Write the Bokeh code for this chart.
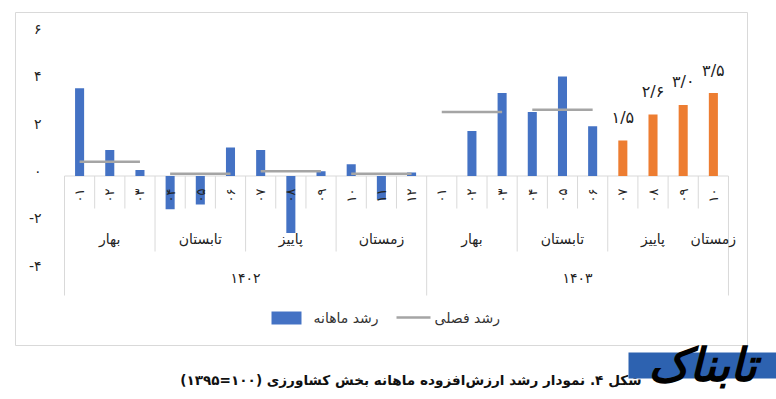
import math
from bokeh.plotting import figure
from bokeh.models import Range1d
from bokeh.core.properties import value
from bokeh.embed import file_html
from bokeh.resources import INLINE

# ---------------- data ----------------
years = ["۱۴۰۲", "۱۴۰۳"]
months_per_year = [12, 10]
seasons = ["بهار", "تابستان", "پاییز", "زمستان"]
month_labels = ["۰۱", "۰۲", "۰۳", "۰۴", "۰۵", "۰۶", "۰۷", "۰۸", "۰۹", "۱۰", "۱۱", "۱۲"]

monthly_1402 = [3.7, 1.1, 0.25, -1.4, -1.2, 1.2, 1.1, -2.4, 0.2, 0.5, -1.0, 0.15]
monthly_1403 = [0.0, 1.9, 3.5, 2.7, 4.2, 2.1, 1.5, 2.6, 3.0, 3.5]
estimated_1403 = [False, False, False, False, False, False, True, True, True, True]
estimate_labels = ["۱/۵", "۲/۶", "۳/۰", "۳/۵"]

seasonal_1402 = [0.6, 0.1, 0.2, 0.1]
seasonal_1403 = [2.7, 2.8]

y_ticks = [-4, -2, 0, 2, 4, 6]
y_tick_labels = ["-۴", "-۲", "۰", "۲", "۴", "۶"]

legend_labels = ["رشد ماهانه", "رشد فصلی"]
caption = "شکل ۴. نمودار رشد ارزش\u200cافزوده ماهانه بخش کشاورزی (۱۰۰=۱۳۹۵)\u200f"
logo_text = "تابناک"

BLUE = "#4472C4"
ORANGE = "#ED7D31"
GREY = "#A5A5A5"
SEP = "#D9D9D9"
FONT = value("DejaVu Sans")

# ---------------- layout (pixel geometry -> data coords) ----------------
W, H = 776, 399
X0, CW = 64.0, 30.18   # pixel of first category edge, pixels per category
Y0, UH = 175.5, 23.7   # pixel of zero, pixels per unit


def X(px):
    return (px - X0) / CW


def Y(py):
    return (Y0 - py) / UH


p = figure(width=W, height=H, x_range=Range1d(X(0), X(W)), y_range=Range1d(Y(H), Y(0)),
           output_backend="svg", toolbar_location=None,
           x_axis_location=None, y_axis_location=None, min_border=0,
           outline_line_color=None, background_fill_color="white", border_fill_color="white")
p.grid.visible = False

# chart border
p.quad(left=[X(15)], right=[X(747)], top=[Y(12)], bottom=[Y(345)],
       fill_color=None, line_color=SEP, line_width=1)

# ---------------- build categories ----------------
values = monthly_1402 + monthly_1403
flags = [False] * len(monthly_1402) + estimated_1403
n = len(values)
xs = [i + 0.5 for i in range(n)]
cat_month = []
cat_season_groups = []   # (year_idx, season_idx, start, count)
start = 0
for yi, cnt in enumerate(months_per_year):
    for k in range(cnt):
        cat_month.append(month_labels[k])
    for si in range(4):
        s0 = si * 3
        c = min(3, cnt - s0)
        if c > 0:
            cat_season_groups.append((yi, si, start + s0, c))
    start += cnt
year_starts = [0, months_per_year[0]]

colors = [ORANGE if f else BLUE for f in flags]

# axis line at zero
p.segment(x0=[0], x1=[n], y0=[0], y1=[0], line_color=SEP, line_width=1)

# separators
year_bounds = [0, months_per_year[0], n]
season_bounds = [g[2] for g in cat_season_groups if g[2] not in year_bounds and g[3] == 3]
sx0, sy1 = [], []
for b in range(n + 1):
    if b in year_bounds:
        sy1.append(Y(295))
    elif b in season_bounds:
        sy1.append(Y(251))
    else:
        sy1.append(Y(208))
    sx0.append(b)
p.segment(x0=sx0, x1=sx0, y0=[0] * len(sx0), y1=sy1, line_color=SEP, line_width=1)

# bars
p.vbar(x=xs, top=values, width=0.3, fill_color=colors, line_color=None)

# seasonal lines
lx, ly = [], []
for g, v in zip([g for g in cat_season_groups if g[0] == 0], seasonal_1402):
    lx.append([g[2] + 0.5 + j for j in range(g[3])]); ly.append([v] * g[3])
for g, v in zip([g for g in cat_season_groups if g[0] == 1], seasonal_1403):
    lx.append([g[2] + 0.5 + j for j in range(g[3])]); ly.append([v] * g[3])
p.multi_line(xs=lx, ys=ly, line_color=GREY, line_width=2.5)

# data labels for estimated bars
ex = [x for x, f in zip(xs, flags) if f]
ev = [v for v, f in zip(values, flags) if f]
p.text(x=ex, y=ev, text=estimate_labels, y_offset=-23, text_align="center",
       text_baseline="middle", text_font=FONT, text_font_size="16px", text_color="#222222")

# y tick labels
p.text(x=[X(41)] * len(y_ticks), y=y_ticks, text=y_tick_labels, y_offset=-5,
       text_align="right", text_baseline="middle", text_font=FONT,
       text_font_size="14px", text_color="#222222")

# month labels (rotated)
p.text(x=xs, y=[Y(195)] * n, text=cat_month, angle=math.pi / 2, text_align="center",
       text_baseline="middle", text_font=FONT, text_font_size="13px", text_color="#222222")

# season labels
p.text(x=[g[2] + g[3] / 2 for g in cat_season_groups], y=[Y(238)] * len(cat_season_groups),
       text=[seasons[g[1]] for g in cat_season_groups], text_align="center",
       text_baseline="middle", text_font=FONT, text_font_size="14px", text_color="#222222")

# year labels
p.text(x=[year_starts[i] + months_per_year[i] / 2 for i in range(2)], y=[Y(277)] * 2,
       text=years, text_align="center", text_baseline="middle", text_font=FONT,
       text_font_size="14px", text_color="#222222")

# legend
p.quad(left=[X(271)], right=[X(301)], top=[Y(311)], bottom=[Y(324)], fill_color=BLUE, line_color=None)
p.segment(x0=[X(396)], x1=[X(430)], y0=[Y(317)], y1=[Y(317)], line_color=GREY, line_width=2.5)
p.text(x=[X(313)], y=[Y(317)], text=[legend_labels[0]], text_align="left",
       text_baseline="middle", text_font=FONT, text_font_size="14px", text_color="#333333")
p.text(x=[X(434)], y=[Y(317)], text=[legend_labels[1]], text_align="left",
       text_baseline="middle", text_font=FONT, text_font_size="14px", text_color="#333333")

# caption
p.text(x=[X(641)], y=[Y(379)], text=[caption], text_align="right", text_baseline="middle",
       text_font=FONT, text_font_size="13.6px", text_font_style="bold", text_color="#111111")

# logo overlay
p.quad(left=[X(628)], right=[X(W)], top=[Y(352)], bottom=[Y(378)], fill_color="#2D62B0", line_color=None)
p.text(x=[X(702)], y=[Y(364)], text=[logo_text], text_align="center", text_baseline="middle",
       text_font=FONT, text_font_size="46px", text_font_style="bold italic", text_color="black")

open("out.html", "w").write(file_html(p, INLINE))
